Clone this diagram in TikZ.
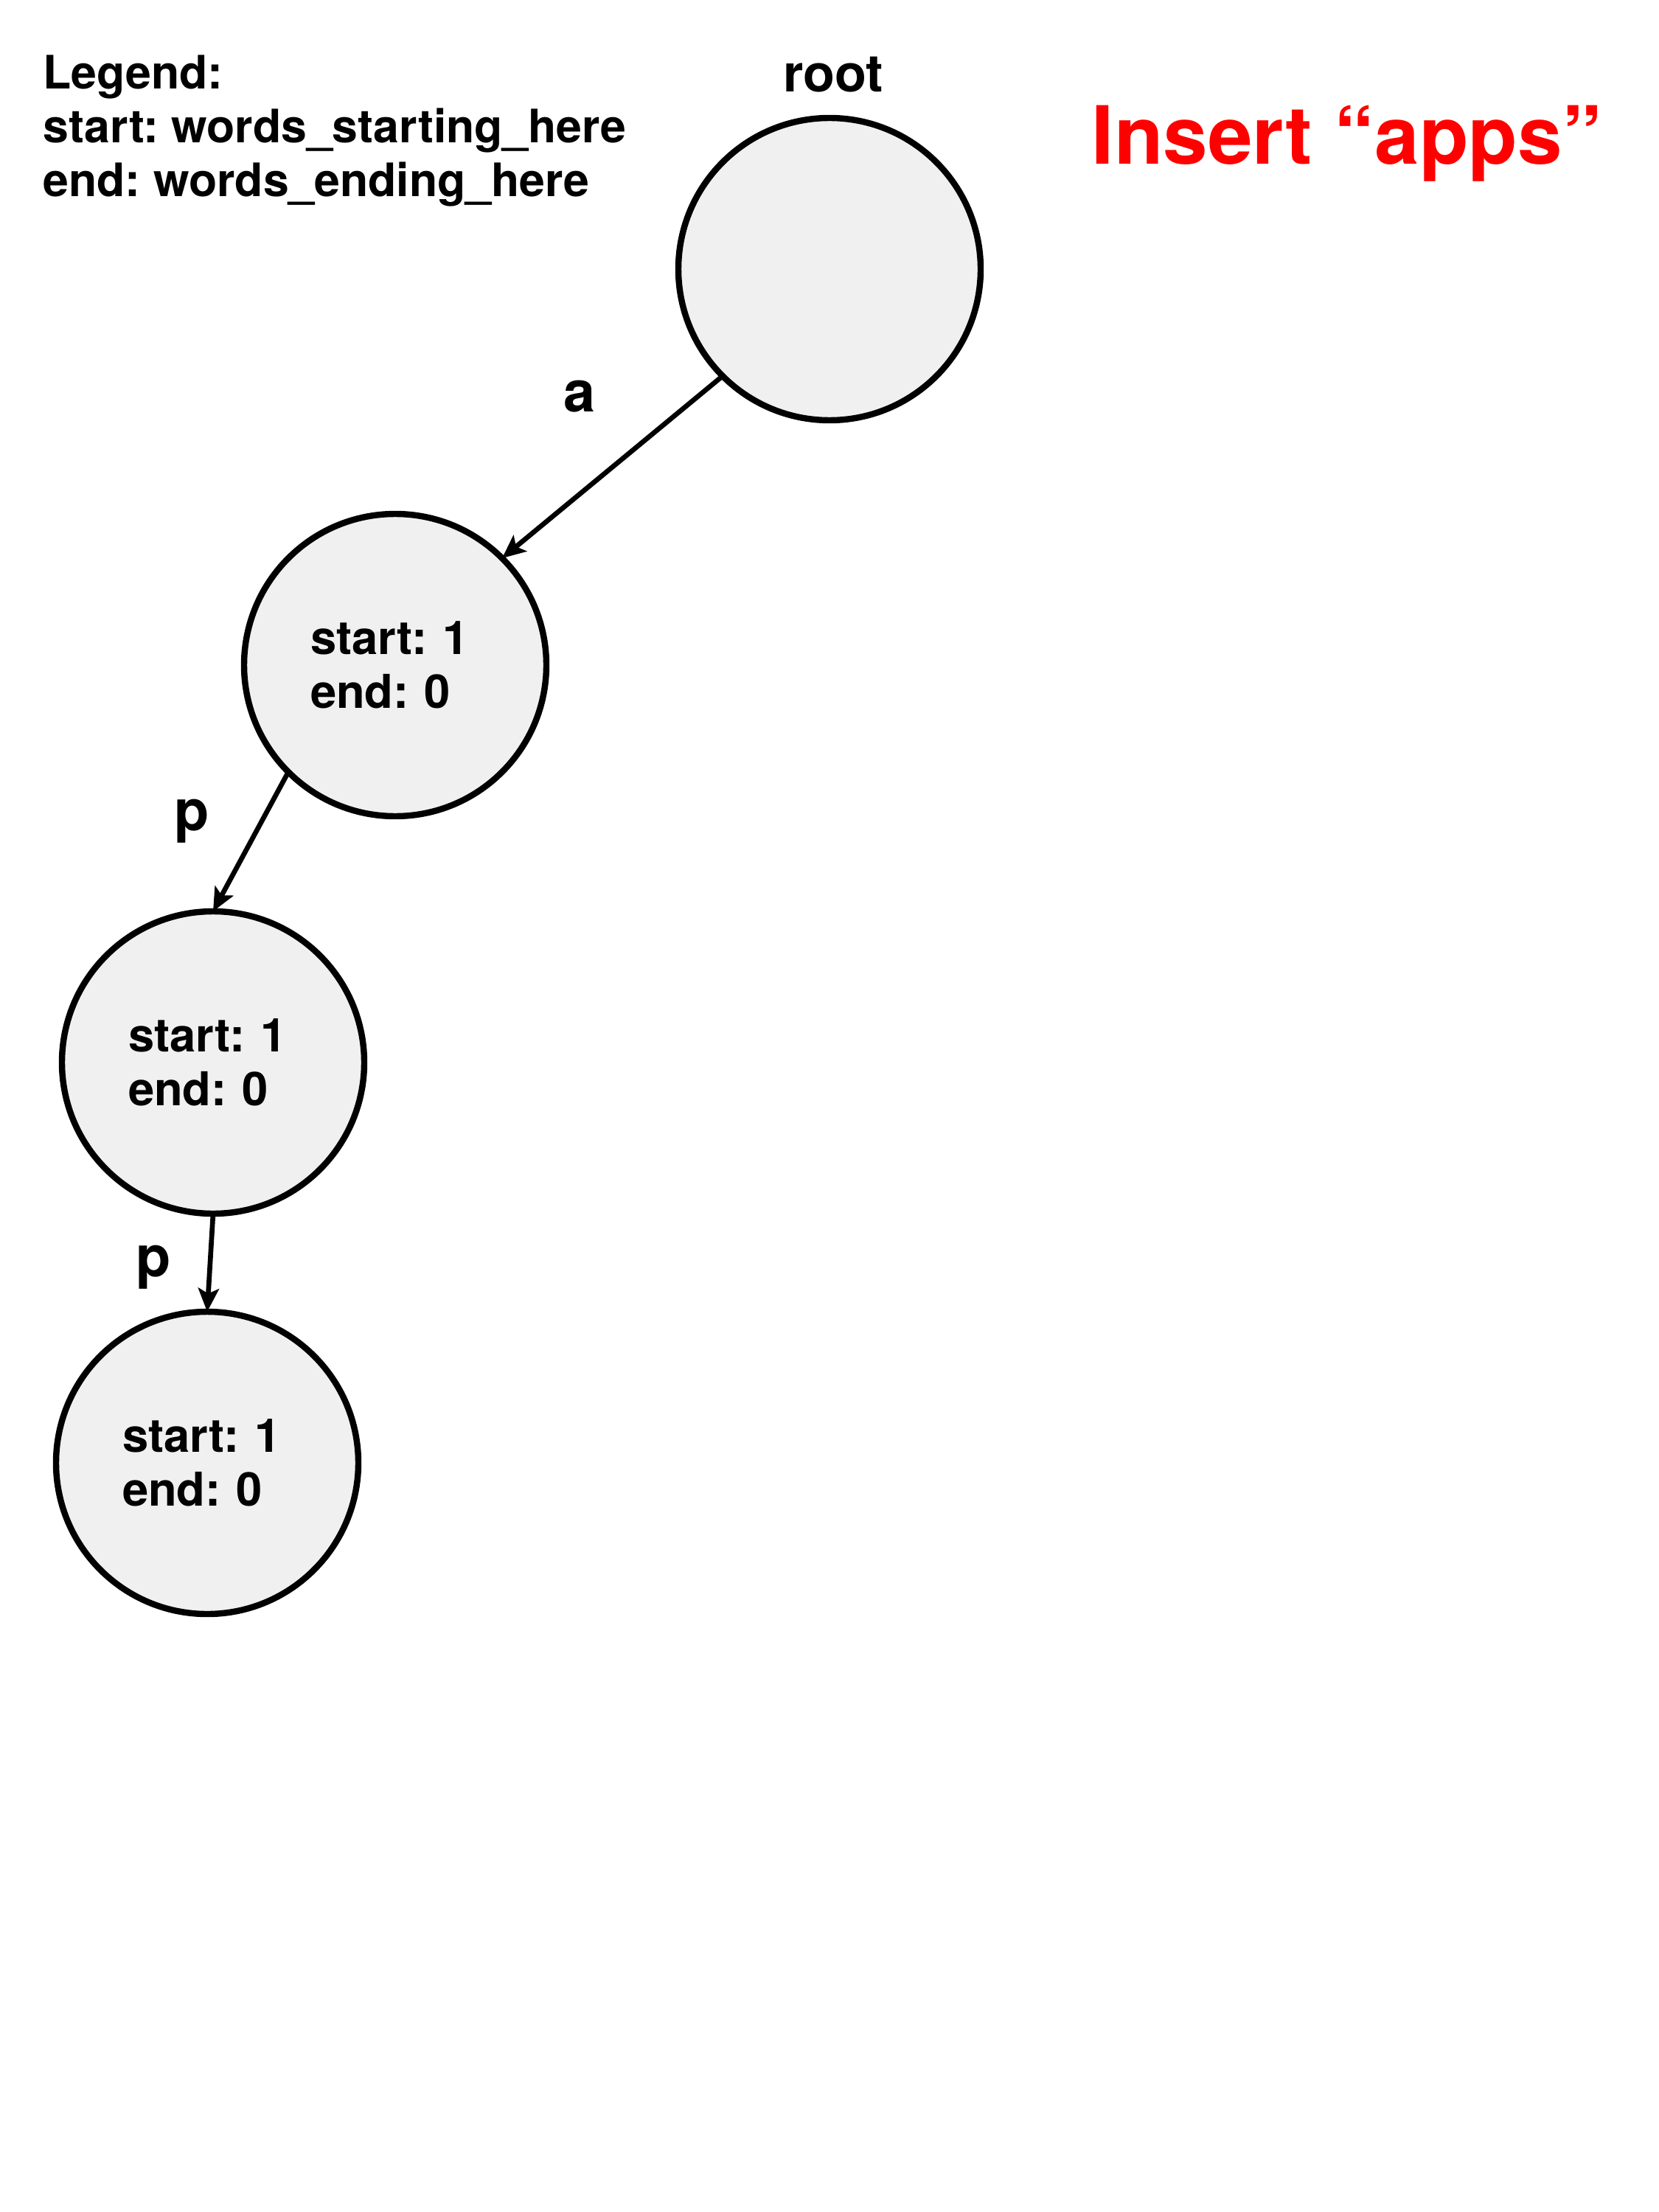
\documentclass[tikz,border=0pt]{standalone}
\usepackage{fontspec}
\setmainfont{TeX Gyre Heros}
\usepackage{tikz}
\usepackage{xcolor}
\usetikzlibrary{
    arrows.meta,
    positioning
}
\definecolor{trgray}{RGB}{240,240,240}
\tikzset{trn/.style={circle, draw=black, line width=2.4pt, fill=trgray, minimum size=4.1cm, inner sep=0pt, outer sep=0pt, text width=2.3cm, align=left, font=\bfseries\fontsize{18}{20.8}\selectfont}}
\tikzset{trl/.style={inner sep=0pt, font=\bfseries\fontsize{22}{26}\selectfont}}
\tikzset{tre/.style={-{Stealth[length=9pt, width=8pt, inset=2pt]}, line width=1.9pt}}

\begin{document}
\frenchspacing
\begin{tikzpicture}
                        \useasboundingbox (0, 0) rectangle (22.5, -30);

                        \node[anchor=north west, inner sep=0pt, align=left, font=\bfseries\fontsize{17.8}{20.8}\selectfont] (legend) at (0.58, -0.74)
                        {Legend:\\start: words\_starting\_here\\end: words\_ending\_here};
                        \node[inner sep=0pt, text=red, font=\bfseries\fontsize{31}{37}\selectfont] (title) at (18.27, -1.95) {Insert “apps”};

                        \node[trn] (root) at (11.25, -3.65) {};
                        \node[trn] (a) at (5.36, -9.02) {start: 1\\end: 0};
                        \node[trn] (p) at (2.89, -14.41) {start: 1\\end: 0};
                        \node[trn] (pp) at (2.81, -19.84) {start: 1\\end: 0};

                        \node[inner sep=0pt, font=\bfseries\fontsize{20}{24}\selectfont] (rootlbl) at (11.30, -1.01) {root};

                        \draw
                        (root.south west) edge[tre] (a.north east)
                        (a.south west) edge[tre] (p.north)
                        (p.south) edge[tre] (pp.north);

                        \node[trl] (la) at (7.86, -5.38) {a};
                        \node[trl] (lp) at (2.60, -11.14) {p};
                        \node[trl] (lpp) at (2.08, -17.19) {p};
                    \end{tikzpicture}
\end{document}
